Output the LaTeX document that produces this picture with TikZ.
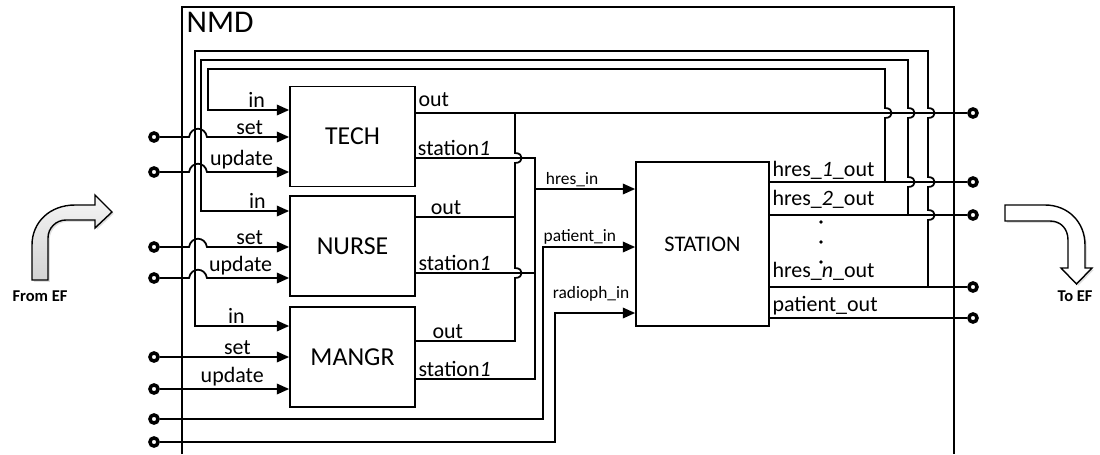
\documentclass[tikz,border=0pt]{standalone}
\usepackage{fontspec}
\setmainfont{Carlito}
\usetikzlibrary{positioning, arrows.meta, shadows}

\newcommand{\fs}[1]{\fontsize{#1}{#1}\selectfont}
% small hops where a wire passes over another one
\newcommand{\hopup}[2]{-- (#1,#2+5) .. controls +(9,0) and +(9,0) .. (#1,#2-5)}
\newcommand{\hopdown}[2]{-- (#1,#2-5) .. controls +(9,0) and +(9,0) .. (#1,#2+5)}
\newcommand{\hopover}[2]{-- (#1-9,#2) .. controls +(2,-11) and +(-2,-11) .. (#1+9,#2)}

\begin{document}
\begin{tikzpicture}[
  x=0.02cm, y=-0.02cm,
  block/.style={draw, line width=1pt, fill=white, minimum width=2.5cm,
                minimum height=2cm, font=\fs{14.7}},
  port/.style={circle, draw, line width=2pt, fill=white, minimum size=4.6pt, inner sep=0pt},
  wire/.style={line width=1pt},
  arr/.style={wire, -{Triangle[length=7pt, width=6pt]}},
  lbl/.style={font=\fs{12.5}, inner sep=1pt},
  slbl/.style={font=\fs{9.9}, inner sep=1pt},
  bigarrow/.style={line width=0.8pt, drop shadow={opacity=.25, shadow xshift=1pt, shadow yshift=-1pt}},
]
  \useasboundingbox (0,0) rectangle (1100,454);

  % NMD frame
  \draw[line width=0.9pt] (182,454) |- (954,7) -- (954,454);
  \node[anchor=north west, font=\fs{18}, inner sep=2.5pt] (nmd) at (182,7) {NMD};

  % blocks
  \node[block] (tech)  at (352.5,136.5) {TECH};
  \node[block] (nurse) at (352.5,246)   {NURSE};
  \node[block] (mangr) at (352.5,357)   {MANGR};
  \node[block, minimum width=2.66cm, minimum height=3.28cm, font=\fs{12.7}]
    (station) at (702.5,244) {STATION};

  % terminals
  \foreach \n/\y in {tset/137, tupd/172, nset/247, nupd/278, mset/357, mupd/389, pat/419, rad/442}
    \node[port] (\n) at (154,\y) {};
  \foreach \n/\y in {o1/113, o2/182, o3/215, o4/287, o5/318}
    \node[port] (\n) at (973,\y) {};

  % set / update inputs
  \draw[arr] (tset) \hopover{198}{137} -- (tech.west |- tset) node[lbl, above, pos=.52] {set};
  \draw[arr] (tupd) \hopover{198}{172} -- (tech.west |- tupd) node[lbl, above, pos=.42] {update};
  \draw[arr] (nset) \hopover{198}{247} -- (nurse.west |- nset) node[lbl, above, pos=.52] {set};
  \draw[arr] (nupd) \hopover{198}{278} -- (nurse.west |- nupd) node[lbl, above, pos=.41] {update};
  \draw[arr] (mset) -- (mangr.west |- mset) node[lbl, above, pos=.6] {set};
  \draw[arr] (mupd) -- (mangr.west |- mupd) node[lbl, above, pos=.56] {update};

  % block outputs
  \draw[wire] (tech.east |- o1) -- (o1) node[lbl, pos=0, above right, yshift=2pt] {out};
  \draw[wire] (nurse.east |- 0,217) -- (515,217) node[lbl, pos=0, above right, xshift=7pt] {out};
  \draw[wire] (515,113) \hopdown{515}{158} \hopdown{515}{273} -- (515,341)
    -- (mangr.east |- 0,341) node[lbl, pos=1, above right, xshift=8pt] {out};
  \draw[wire] (tech.east |- 0,158) -| (535,379) -- (mangr.east |- 0,379)
    node[lbl, pos=1, above right] {station\textit{1}};
  \node[lbl, above right] at (tech.east |- 0,158) {station\textit{1}};
  \draw[wire] (nurse.east |- 0,273) -- (535,273) node[lbl, pos=0, above right] {station\textit{1}};

  % station inputs
  \draw[arr] (535,189) -- (station.west |- 0,189) node[slbl, above, pos=.37] {hres\_in};
  \draw[arr] (pat) -| (543,247) -- (station.west |- 0,247) node[slbl, above, pos=.4] {patient\_in};
  \draw[arr] (rad) -| (555,313) -- (station.west |- 0,313) node[slbl, above=5pt, pos=.45] {radioph\_in};

  % station outputs
  \draw[wire] (station.east |- o2) -- (o2) node[lbl, pos=0, above right] {hres\_\textit{1}\_out};
  \draw[wire] (station.east |- o3) -- (o3) node[lbl, pos=0, above right, yshift=2pt] {hres\_\textit{2}\_out};
  \draw[wire] (station.east |- o4) -- (o4) node[lbl, pos=0, above right, yshift=2pt] {hres\_\textit{n}\_out};
  \draw[wire] (station.east |- o5) -- (o5) node[lbl, pos=0, above right] {patient\_out};
  \foreach \y in {222, 242, 262}
    \fill (821,\y) circle[radius=1.1pt];

  % feedback to the "in" ports
  \draw[arr] (885,182) \hopup{885}{113} -- (885,69) -- (208,69) -- (208,110)
    -- (tech.west |- 0,110) node[lbl, above, pos=.6] {in};
  \draw[arr] (908,215) \hopup{908}{182} \hopup{908}{113} -- (908,60) -- (201,60) -- (201,211)
    -- (nurse.west |- 0,211) node[lbl, above, pos=.64] {in};
  \draw[arr] (928,287) \hopup{928}{215} \hopup{928}{182} \hopup{928}{113} -- (928,51) -- (195,51) -- (195,326)
    -- (mangr.west |- 0,326) node[lbl, above, pos=.44] {in};

  % from / to EF
  \draw[bigarrow, top color=gray!8, bottom color=gray!35]
    (32,280) -- (32,245) .. controls (32,222) and (50,205) .. (75,205) -- (95,205) -- (95,195)
    -- (112,212) -- (95,228) -- (95,220) -- (66,220) .. controls (56,220) and (48,228) .. (48,238)
    -- (48,280) -- cycle;
  \node[font=\bfseries\fs{9.4}] (from) at (40,296) {From EF};
  \draw[bigarrow, fill=white]
    (1005,205) -- (1045,205) .. controls (1068,205) and (1085,222) .. (1085,245) -- (1085,268)
    -- (1092,268) -- (1076.5,284) -- (1061,268) -- (1068,268) -- (1068,240)
    .. controls (1068,229) and (1061,221) .. (1050,221) -- (1005,221) -- cycle;
  \node[font=\bfseries\fs{9.4}] (to) at (1075,296) {To EF};
\end{tikzpicture}
\end{document}
